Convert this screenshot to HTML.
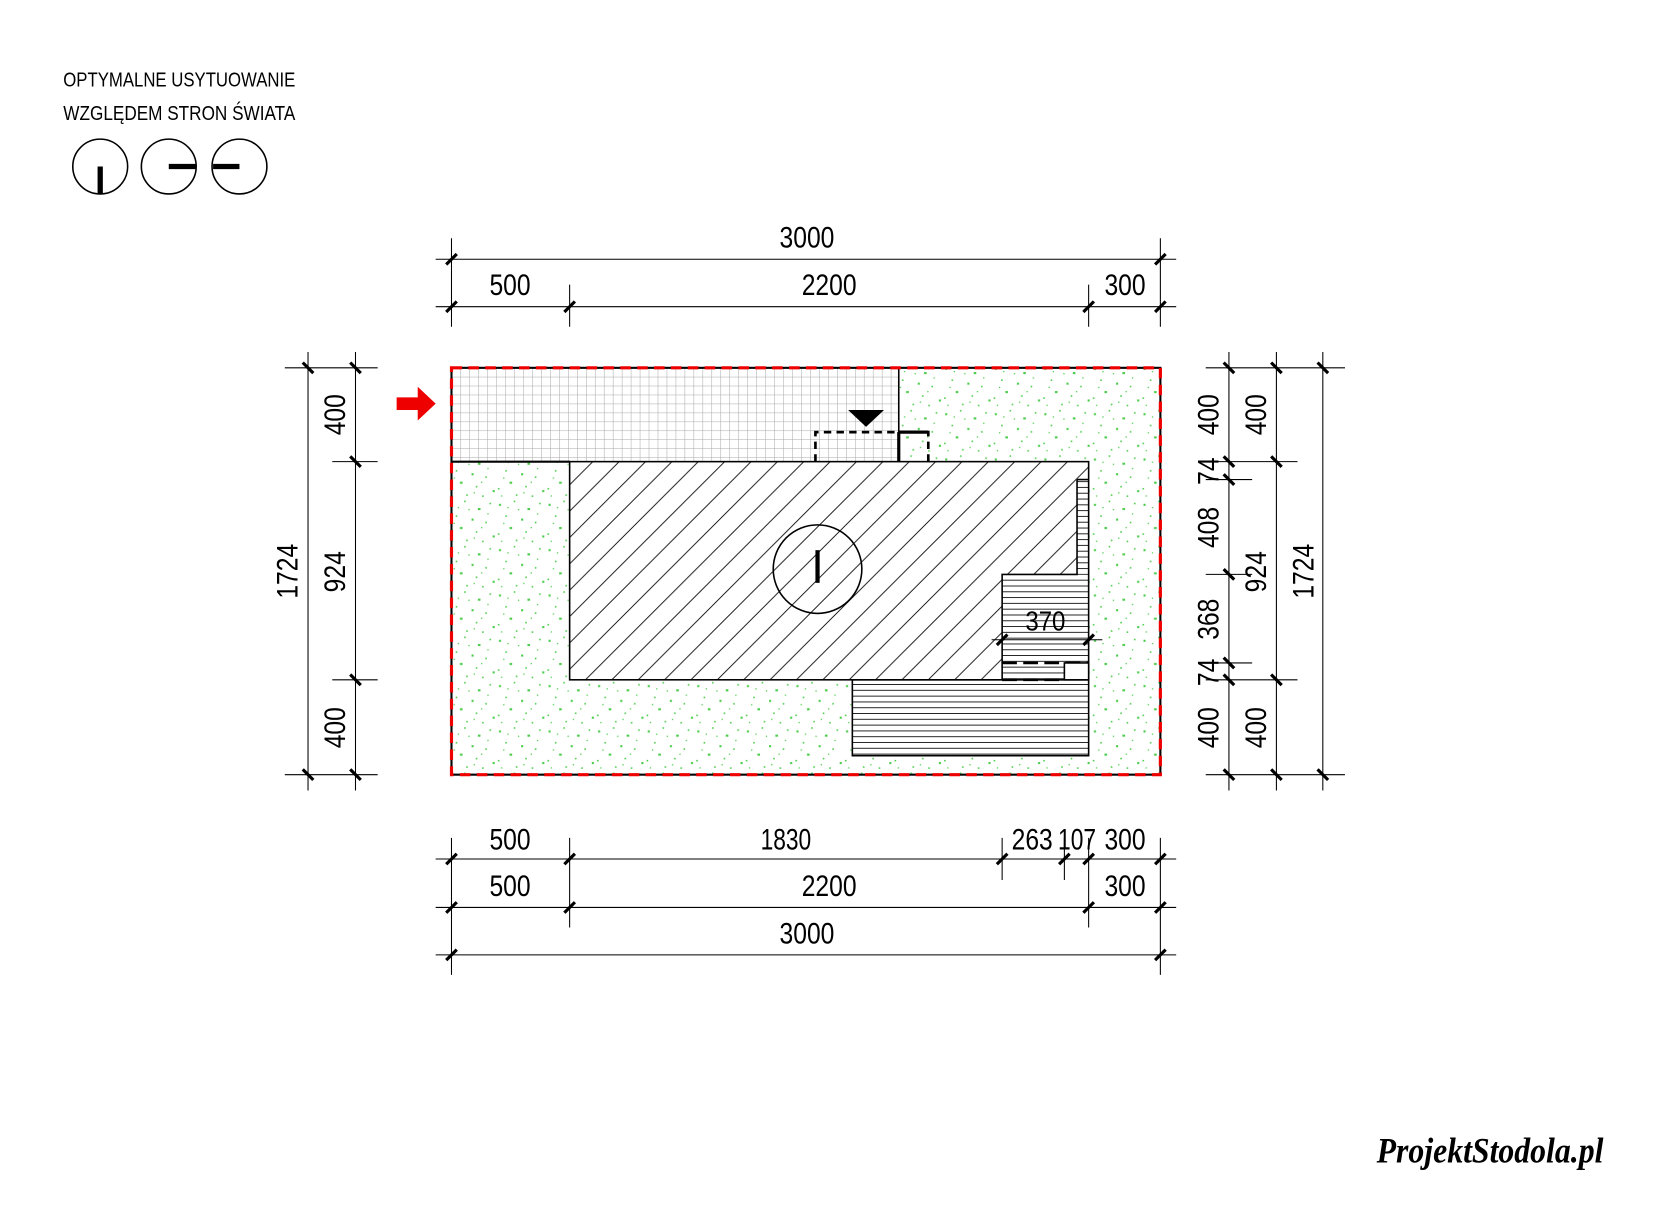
<!DOCTYPE html>
<html><head><meta charset="utf-8"><style>html,body{margin:0;padding:0;background:#fff}svg{display:block}text{font-family:"Liberation Sans",sans-serif;fill:#000}</style></head><body>
<svg width="1653" height="1211" viewBox="0 0 1567 1149" preserveAspectRatio="none" xmlns="http://www.w3.org/2000/svg">
<defs>
<pattern id="grass" width="47" height="43" patternUnits="userSpaceOnUse">
<g fill="#4ccc4c">
<rect x="3" y="5" width="2" height="2"/><rect x="17" y="2" width="1.5" height="1.5"/><rect x="30" y="9" width="2.5" height="2"/><rect x="41" y="4" width="1.5" height="1.5"/>
<rect x="9" y="16" width="1.5" height="1.5"/><rect x="24" y="19" width="2" height="2"/><rect x="37" y="22" width="1.5" height="1.5"/><rect x="13" y="27" width="2.5" height="2"/>
<rect x="2" y="33" width="1.5" height="1.5"/><rect x="28" y="31" width="1.5" height="1.5"/><rect x="44" y="35" width="2" height="2"/><rect x="19" y="39" width="1.5" height="1.5"/>
<rect x="34" y="40" width="1.5" height="1.5"/><rect x="7" y="23" width="1.2" height="1.2"/><rect x="21" y="10" width="1.2" height="1.2"/><rect x="39" y="14" width="1.2" height="1.2"/>
<rect x="26" y="37" width="1.2" height="1.2"/><rect x="11" y="8" width="1.2" height="1.2"/><rect x="33" y="27" width="1.2" height="1.2"/><rect x="5" y="40" width="1.2" height="1.2"/>
</g></pattern>
<pattern id="grid" width="8.5" height="8.5" patternUnits="userSpaceOnUse" x="428" y="349">
<path d="M0 0H8.5M0 0V8.5" stroke="#aaa" stroke-width="1" fill="none"/></pattern>
<pattern id="hatch" width="25" height="25" patternUnits="userSpaceOnUse">
<path d="M-5 30L30 -5M-5 5L5 -5M20 30L30 20" stroke="#000" stroke-width="0.8"/></pattern>
<pattern id="hl" width="10" height="5.5" patternUnits="userSpaceOnUse" y="0">
<path d="M0 0.5H10" stroke="#000" stroke-width="0.8"/></pattern>
</defs>

<text x="60" y="82" font-size="19" textLength="220" lengthAdjust="spacingAndGlyphs">OPTYMALNE USYTUOWANIE</text>
<text x="60" y="114" font-size="19" textLength="220" lengthAdjust="spacingAndGlyphs">WZGLĘDEM STRON ŚWIATA</text>
<g fill="none" stroke="#000" stroke-width="1.5">
<circle cx="95" cy="158" r="26"/><circle cx="160" cy="158" r="26"/><circle cx="227" cy="158" r="26"/></g>
<g stroke="#000" stroke-width="5"><path d="M95 158V184M160 158H186M202 158H227"/></g>

<rect x="428" y="349" width="672" height="386" fill="url(#grass)"/>
<rect x="428" y="349" width="424" height="89" fill="#fff"/>
<rect x="428" y="349" width="424" height="89" fill="url(#grid)"/>
<rect x="540" y="438" width="492" height="207" fill="#fff"/>
<rect x="540" y="438" width="492" height="207" fill="url(#hatch)"/>
<rect x="808" y="645" width="224" height="72" fill="#fff" stroke="#000" stroke-width="1.5"/>
<rect x="808" y="645" width="224" height="72" fill="url(#hl)"/>
<rect x="950" y="545" width="82" height="100" fill="#fff"/>
<rect x="950" y="545" width="82" height="100" fill="url(#hl)"/>
<rect x="1021" y="455" width="11" height="90" fill="#fff"/>
<rect x="1021" y="455" width="11" height="90" fill="url(#hl)"/>
<g fill="none" stroke="#000" stroke-width="1.5">
<rect x="540" y="438" width="492" height="207"/>
<path d="M1021 455V545H950V645M1021 455H1032"/>
<path d="M428 438H540" stroke-width="2"/>
<path d="M852 349V438" />
<path d="M852 410V438M852 410H880" stroke-width="3"/>
<path d="M773 438V410H880V438" stroke-dasharray="7,5" stroke-width="2.5"/>
<path d="M950 629H1032" stroke-dasharray="14,6" stroke-width="2.5"/>
<circle cx="775" cy="540" r="42" fill="none"/>
<path d="M775 522V553" stroke-width="4"/>
<path d="M950 645H1009" stroke-dasharray="14,6" stroke-width="2.5"/>
</g>
<rect x="1009" y="629" width="23" height="16" fill="#fff" stroke="#000" stroke-width="1.5"/>
<polygon points="804,389 838,389 821,405" fill="#000"/>
<rect x="428" y="349" width="672" height="386" fill="none" stroke="#000" stroke-width="2"/>
<rect x="428" y="349" width="672" height="386" fill="none" stroke="#e00" stroke-width="3" stroke-dasharray="10,6"/>
<polygon points="376,377 396,377 396,367 413,383 396,399 396,389 376,389" fill="#e00"/>

<g stroke="#000" stroke-width="1"><path d="M940 607H1045"/></g>
<g stroke="#000" stroke-width="3"><path d="M945 612L955 602M1027 612L1037 602"/></g>
<text x="972" y="598" font-size="26" textLength="38" lengthAdjust="spacingAndGlyphs">370</text>

<g stroke="#000" stroke-width="1" fill="none">
<path d="M413 246H1115M413 291H1115M413 815H1115M413 861H1115M413 906H1115"/>
<path d="M428 226V310M1100 226V310M540 270V310M1032 270V310"/>
<path d="M428 795V925M1100 795V925M540 795V880M1032 795V880M950 795V835M1009 795V835"/>
</g>
<g stroke="#000" stroke-width="3">
<path d="M423 251L433 241M1095 251L1105 241"/>
<path d="M423 296L433 286M535 296L545 286M1027 296L1037 286M1095 296L1105 286"/>
<path d="M423 820L433 810M535 820L545 810M945 820L955 810M1004 820L1014 810M1027 820L1037 810M1095 820L1105 810"/>
<path d="M423 866L433 856M535 866L545 856M1027 866L1037 856M1095 866L1105 856"/>
<path d="M423 911L433 901M1095 911L1105 901"/>
</g>
<g font-size="28">
<text x="739" y="235" textLength="52" lengthAdjust="spacingAndGlyphs">3000</text>
<text x="464" y="280" textLength="39" lengthAdjust="spacingAndGlyphs">500</text>
<text x="760" y="280" textLength="52" lengthAdjust="spacingAndGlyphs">2200</text>
<text x="1047" y="280" textLength="39" lengthAdjust="spacingAndGlyphs">300</text>
<text x="464" y="806" textLength="39" lengthAdjust="spacingAndGlyphs">500</text>
<text x="721" y="806" textLength="48" lengthAdjust="spacingAndGlyphs">1830</text>
<text x="959" y="806" textLength="39" lengthAdjust="spacingAndGlyphs">263</text>
<text x="1003" y="806" textLength="36" lengthAdjust="spacingAndGlyphs">107</text>
<text x="1047" y="806" textLength="39" lengthAdjust="spacingAndGlyphs">300</text>
<text x="464" y="850" textLength="39" lengthAdjust="spacingAndGlyphs">500</text>
<text x="760" y="850" textLength="52" lengthAdjust="spacingAndGlyphs">2200</text>
<text x="1047" y="850" textLength="39" lengthAdjust="spacingAndGlyphs">300</text>
<text x="739" y="895" textLength="52" lengthAdjust="spacingAndGlyphs">3000</text>
</g>

<g stroke="#000" stroke-width="1" fill="none">
<path d="M292 334V750M337 334V750M1165 334V750M1210 334V750M1254 334V750"/>
<path d="M270 349H358M270 735H358M315 438H358M315 645H358"/>
<path d="M1143 349H1275M1143 735H1275M1143 438H1230M1143 645H1230M1143 455H1187M1143 629H1187M1143 545H1187"/>
</g>
<g stroke="#000" stroke-width="3">
<path d="M287 344L297 354M287 730L297 740M332 344L342 354M332 433L342 443M332 640L342 650M332 730L342 740"/>
<path d="M1160 344L1170 354M1160 433L1170 443M1160 450L1170 460M1160 540L1170 550M1160 624L1170 634M1160 640L1170 650M1160 730L1170 740"/>
<path d="M1205 344L1215 354M1205 433L1215 443M1205 640L1215 650M1205 730L1215 740"/>
<path d="M1249 344L1259 354M1249 730L1259 740"/>
</g>
<g font-size="28">
<text transform="translate(282,568) rotate(-90)" textLength="52" lengthAdjust="spacingAndGlyphs">1724</text>
<text transform="translate(327,413) rotate(-90)" textLength="39" lengthAdjust="spacingAndGlyphs">400</text>
<text transform="translate(327,562) rotate(-90)" textLength="39" lengthAdjust="spacingAndGlyphs">924</text>
<text transform="translate(327,710) rotate(-90)" textLength="39" lengthAdjust="spacingAndGlyphs">400</text>
<text transform="translate(1155,413) rotate(-90)" textLength="39" lengthAdjust="spacingAndGlyphs">400</text>
<text transform="translate(1155,460) rotate(-90)" textLength="26" lengthAdjust="spacingAndGlyphs">74</text>
<text transform="translate(1155,520) rotate(-90)" textLength="39" lengthAdjust="spacingAndGlyphs">408</text>
<text transform="translate(1155,607) rotate(-90)" textLength="39" lengthAdjust="spacingAndGlyphs">368</text>
<text transform="translate(1155,651) rotate(-90)" textLength="26" lengthAdjust="spacingAndGlyphs">74</text>
<text transform="translate(1155,710) rotate(-90)" textLength="39" lengthAdjust="spacingAndGlyphs">400</text>
<text transform="translate(1200,413) rotate(-90)" textLength="39" lengthAdjust="spacingAndGlyphs">400</text>
<text transform="translate(1200,562) rotate(-90)" textLength="39" lengthAdjust="spacingAndGlyphs">924</text>
<text transform="translate(1200,710) rotate(-90)" textLength="39" lengthAdjust="spacingAndGlyphs">400</text>
<text transform="translate(1245,568) rotate(-90)" textLength="52" lengthAdjust="spacingAndGlyphs">1724</text>
</g>

<text x="1305" y="1103" font-size="34" font-style="italic" font-weight="bold" style="font-family:'Liberation Serif',serif" textLength="215" lengthAdjust="spacingAndGlyphs">ProjektStodola.pl</text>
</svg>
</body></html>
